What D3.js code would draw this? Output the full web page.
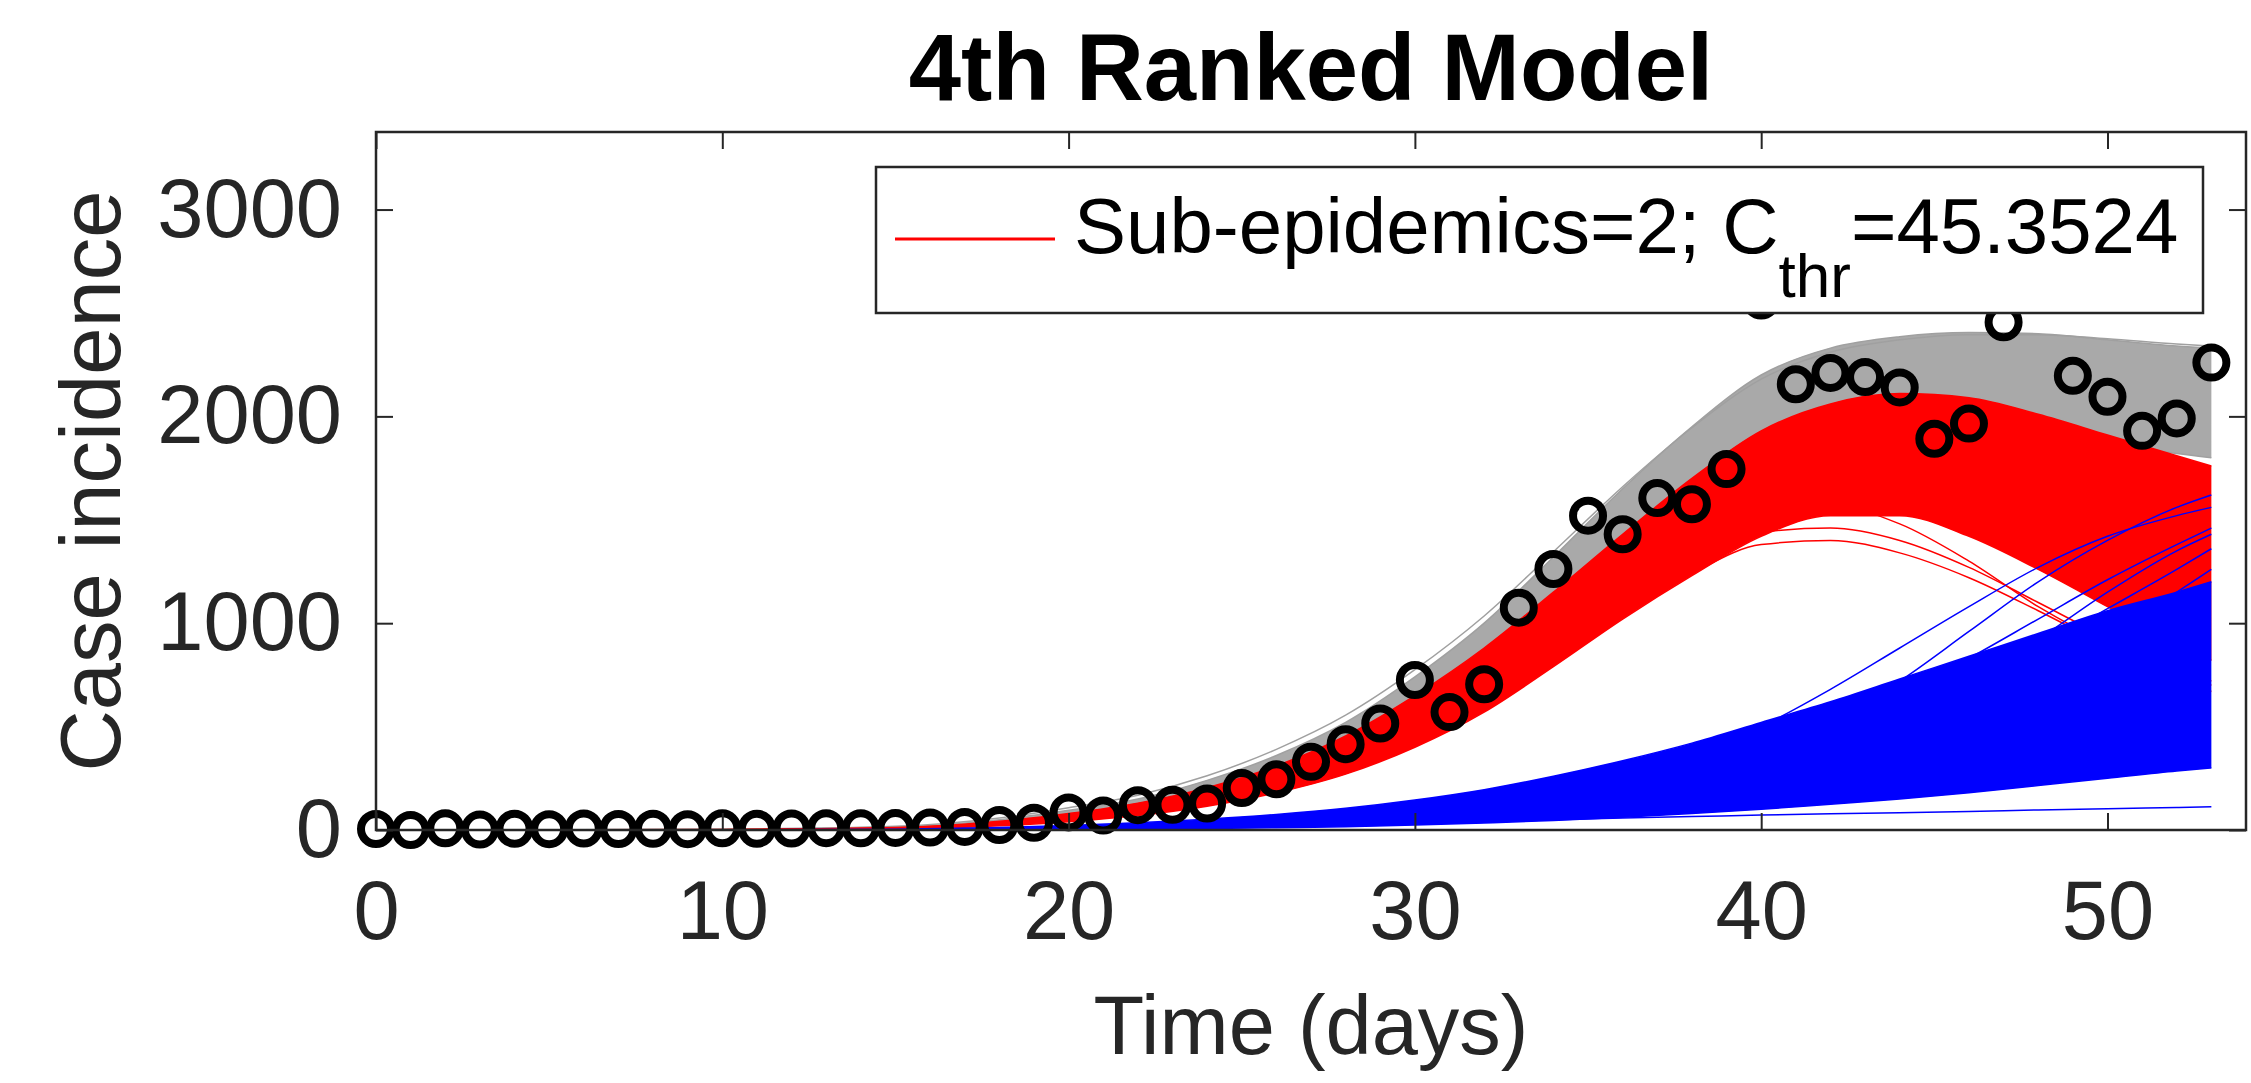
<!DOCTYPE html>
<html>
<head>
<meta charset="utf-8">
<script src="https://cdn.jsdelivr.net/npm/d3@7"></script>
<style>
  html, body { margin: 0; padding: 0; background: #fff; }
  svg { display: block; }
  text { font-family: "Liberation Sans", Arial, Helvetica, sans-serif; }
</style>
</head>
<body>
<script>
// ---------------- DATA ----------------
const titleText = "4th Ranked Model";
const xLabel = "Time (days)";
const yLabel = "Case incidence";
const xTicks = [0, 10, 20, 30, 40, 50];
const yTicks = [0, 1000, 2000, 3000];

// observed daily case incidence (black circles), day 0..53
const obsDays = d3.range(0, 54);
const obsCases = [5, 0, 8, 2, 6, 4, 7, 5, 6, 4, 8, 6, 7, 9, 8, 10, 12, 15, 24, 35,
                  85, 70, 120, 122, 128, 203, 245, 330, 415, 515,
                  725, 570, 705, 1075, 1262, 1520, 1430, 1605, 1575, 1745,
                  2560, 2155, 2210, 2190, 2140, 1892, 1965, 2455, 2750, 2196,
                  2095, 1930, 1990, 2260];

// model grid (days at which ensemble envelopes / curves were read)
const modelDays = [0, 5, 10, 15, 18, 20, 22, 24, 26, 28, 30, 32, 34, 36, 38, 40, 42, 44, 46, 48, 50, 52, 53];

// total incidence ensemble envelope (grey)
const grayUpper = [0, 1, 3, 15, 50, 95, 150, 240, 360, 520, 740, 1000, 1320, 1650, 1950, 2200, 2330, 2385, 2405, 2400, 2370, 2340, 2330];
const grayLower = [0, 0, 1, 5, 25, 55, 95, 160, 250, 370, 530, 740, 990, 1250, 1500, 1720, 1870, 1950, 1960, 1920, 1870, 1820, 1800];
const grayOut1 = [0, 1, 4, 18, 58, 108, 168, 262, 390, 555, 775, 1035, 1345, 1660, 1945, 2180, 2310, 2370, 2395, 2395, 2375, 2350, 2340];

// sub-epidemic 1 ensemble envelope (red)
const redUpper = [0, 1, 3, 12, 42, 80, 130, 205, 310, 455, 650, 880, 1150, 1430, 1700, 1930, 2060, 2110, 2090, 2010, 1910, 1810, 1760];
const redLower = [0, 0, 1, 5, 20, 40, 70, 115, 180, 270, 400, 570, 790, 1020, 1230, 1420, 1520, 1520, 1420, 1260, 1080, 900, 820];
const redOut1 = [0, 0, 1, 8, 28, 55, 90, 140, 210, 310, 440, 610, 820, 1040, 1240, 1380, 1400, 1340, 1220, 1060, 890, 740, 670];
const redOut2 = [0, 0, 1, 9, 32, 62, 100, 155, 235, 345, 490, 670, 890, 1120, 1320, 1440, 1460, 1400, 1270, 1100, 930, 790, 720];
const redOut3 = [0, 0, 1, 10, 36, 70, 115, 180, 270, 395, 560, 770, 1010, 1260, 1450, 1560, 1570, 1480, 1300, 1080, 900, 760, 700];

// sub-epidemic 2 ensemble envelope (blue)
const blueUpper = [0, 0, 1, 4, 12, 22, 35, 52, 75, 105, 145, 195, 260, 335, 420, 520, 620, 730, 840, 950, 1060, 1150, 1200];
const blueLower = [0, 0, 0, 0, 1, 2, 4, 7, 11, 16, 24, 34, 46, 62, 80, 100, 125, 150, 180, 215, 250, 285, 300];
const blueOut1 = [0, 0, 0, 1, 3, 6, 11, 18, 28, 42, 62, 90, 130, 185, 260, 370, 520, 720, 960, 1200, 1400, 1560, 1620];
const blueOut2 = [0, 0, 0, 1, 3, 7, 13, 22, 35, 55, 85, 125, 180, 255, 360, 500, 680, 880, 1080, 1270, 1420, 1520, 1560];
const blueFan1 = [0, 0, 0, 1, 3, 6, 10, 16, 25, 37, 53, 75, 103, 140, 190, 255, 340, 450, 590, 760, 950, 1150, 1260];
const blueFan2 = [0, 0, 0, 1, 3, 6, 10, 17, 27, 40, 58, 83, 115, 160, 220, 300, 405, 540, 700, 880, 1070, 1260, 1360];
const blueFan3 = [0, 0, 0, 1, 3, 6, 11, 18, 29, 44, 65, 95, 135, 190, 265, 365, 495, 650, 830, 1020, 1210, 1380, 1460];
const blueFan4 = [0, 0, 0, 1, 2, 5, 9, 15, 24, 36, 52, 74, 104, 145, 200, 275, 380, 520, 700, 920, 1150, 1350, 1430];
const blueFlat = [0, 0, 0, 0, 2, 8, 11, 15, 20, 25, 30, 38, 50, 58, 65, 72, 78, 84, 90, 97, 103, 109, 112];

const legendMain = "Sub-epidemics=2; C";
const legendSub = "thr";
const legendTail = "=45.3524";

// ---------------- DRAW ----------------
const W = 2251, H = 1083;
const svg = d3.select("body").append("svg").attr("width", W).attr("height", H);

const x = d3.scaleLinear().domain([0, 54]).range([376, 2246]);
const y = d3.scaleLinear().domain([0, 3375]).range([830, 132]);

svg.append("clipPath").attr("id", "plotclip")
  .append("rect").attr("x", 376).attr("y", 132).attr("width", 1870).attr("height", 698);

const plot = svg.append("g").attr("clip-path", "url(#plotclip)");

const band = (lo, hi) => d3.area()
  .x((d, i) => x(modelDays[i]))
  .y0((d, i) => y(lo[i]))
  .y1((d, i) => y(hi[i]))
  .curve(d3.curveMonotoneX)(lo);

const line = d3.line()
  .x((d, i) => x(modelDays[i]))
  .y(d => y(d))
  .curve(d3.curveMonotoneX);

// grey total
plot.append("path").attr("d", band(grayLower, grayUpper)).attr("fill", "#a9a9a9");
[grayUpper, grayLower, grayOut1].forEach(s =>
  plot.append("path").attr("d", line(s)).attr("fill", "none").attr("stroke", "#a0a0a0").attr("stroke-width", 1.5));

// red sub-epidemic 1
plot.append("path").attr("d", band(redLower, redUpper)).attr("fill", "#ff0000");
[redUpper, redLower, redOut1, redOut2, redOut3].forEach(s =>
  plot.append("path").attr("d", line(s)).attr("fill", "none").attr("stroke", "#ff0000").attr("stroke-width", 1.5));

// blue sub-epidemic 2
plot.append("path").attr("d", band(blueLower, blueUpper)).attr("fill", "#0000ff");
[blueUpper, blueLower, blueOut1, blueOut2, blueFan1, blueFan2, blueFan3, blueFan4, blueFlat].forEach(s =>
  plot.append("path").attr("d", line(s)).attr("fill", "none").attr("stroke", "#0000ff").attr("stroke-width", 1.5));

// observed data
svg.append("g").selectAll("circle").data(obsCases).join("circle")
  .attr("cx", (d, i) => x(obsDays[i]))
  .attr("cy", d => y(d))
  .attr("r", 15)
  .attr("fill", "none")
  .attr("stroke", "#000")
  .attr("stroke-width", 8);

// legend
const lg = svg.append("g");
lg.append("rect").attr("x", 876).attr("y", 167).attr("width", 1327).attr("height", 146)
  .attr("fill", "#fff").attr("stroke", "#262626").attr("stroke-width", 2.5);
lg.append("line").attr("x1", 895).attr("x2", 1055).attr("y1", 239).attr("y2", 239)
  .attr("stroke", "#ff0000").attr("stroke-width", 3);
const lt = lg.append("text").attr("x", 1074).attr("y", 253).attr("font-size", 78).attr("fill", "#000");
lt.append("tspan").text(legendMain);
lt.append("tspan").attr("font-size", 62).attr("dy", 44).text(legendSub);
lt.append("tspan").attr("dy", -44).text(legendTail);

// axes
const axisColor = "#262626";
const gx = svg.append("g").attr("transform", "translate(0,830)")
  .call(d3.axisBottom(x).tickValues(xTicks).tickSizeInner(-17).tickSizeOuter(0).tickPadding(50).tickFormat(d3.format("d")));
const gy = svg.append("g").attr("transform", "translate(376,0)")
  .call(d3.axisLeft(y).tickValues(yTicks).tickSizeInner(-17).tickSizeOuter(0).tickPadding(34).tickFormat(d3.format("d")));
const gt = svg.append("g").attr("transform", "translate(0,132)")
  .call(d3.axisTop(x).tickValues(xTicks).tickSizeInner(-17).tickSizeOuter(0).tickFormat(""));
const gr = svg.append("g").attr("transform", "translate(2246,0)")
  .call(d3.axisRight(y).tickValues(yTicks).tickSizeInner(-17).tickSizeOuter(0).tickFormat(""));
[gx, gy, gt, gr].forEach(g => {
  g.select(".domain").remove();
  g.selectAll(".tick line").attr("stroke", axisColor).attr("stroke-width", 2);
  g.selectAll(".tick text").attr("fill", axisColor).attr("font-size", 83)
    .attr("font-family", "'Liberation Sans', Arial, Helvetica, sans-serif");
});
svg.append("rect").attr("x", 376).attr("y", 132).attr("width", 1870).attr("height", 698)
  .attr("fill", "none").attr("stroke", axisColor).attr("stroke-width", 2.5);

// labels
svg.append("text").attr("x", 1311).attr("y", 1054).attr("text-anchor", "middle")
  .attr("font-size", 83).attr("fill", axisColor).text(xLabel);
svg.append("text").attr("transform", "translate(120,481) rotate(-90)").attr("text-anchor", "middle")
  .attr("font-size", 85).attr("fill", axisColor).text(yLabel);
svg.append("text").attr("x", 1311).attr("y", 100).attr("text-anchor", "middle")
  .attr("font-size", 94).attr("font-weight", "bold").attr("fill", "#000").text(titleText);
</script>
</body>
</html>
